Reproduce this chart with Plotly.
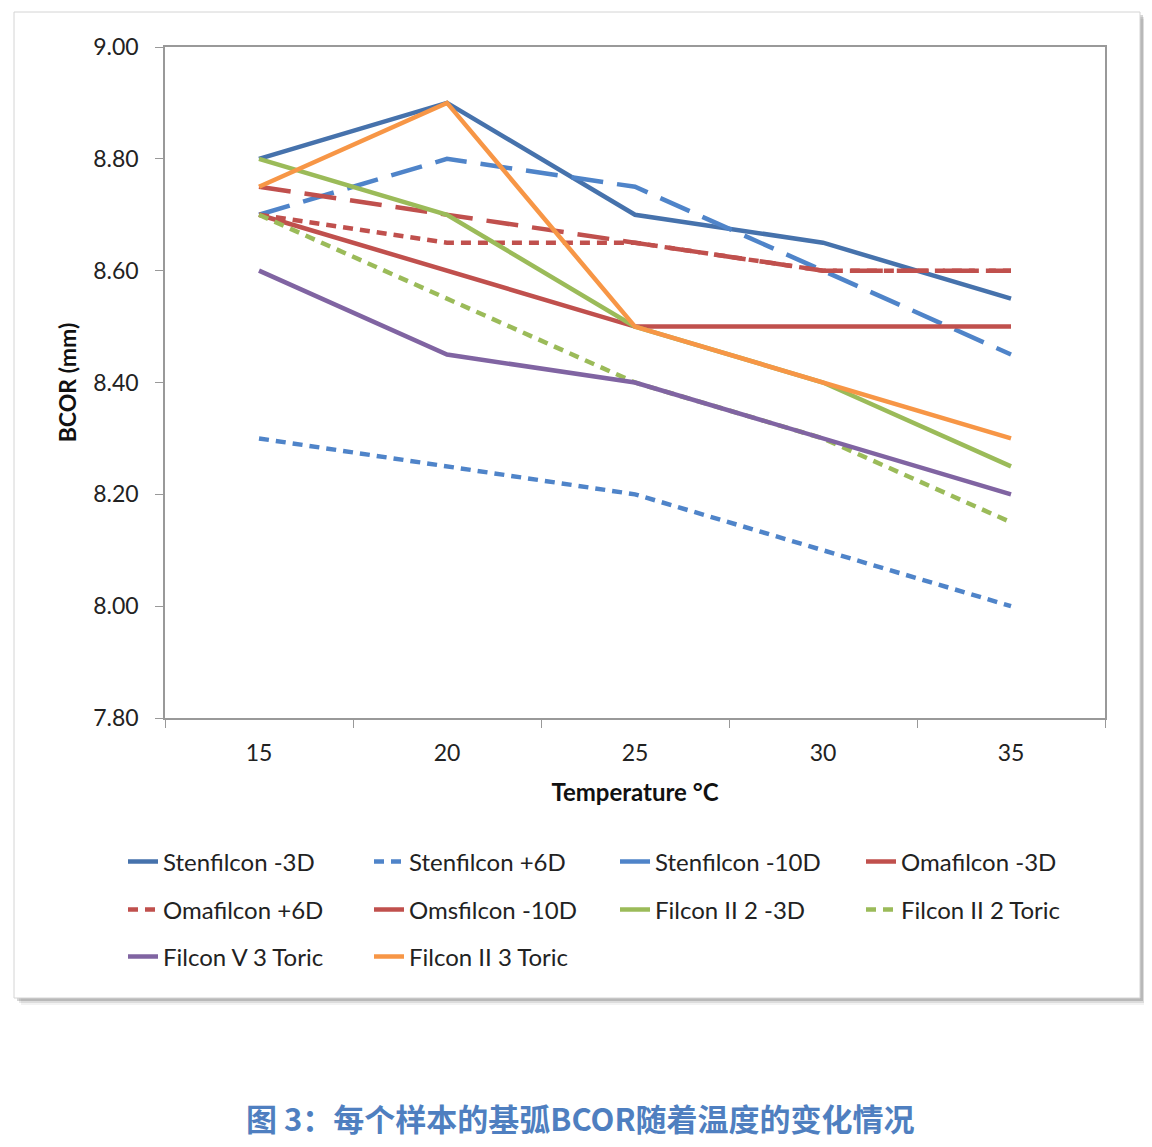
import plotly.graph_objects as go

temps = ["15", "20", "25", "30", "35"]

stenfilcon_m3 = [8.80, 8.90, 8.70, 8.65, 8.55]
stenfilcon_p6 = [8.30, 8.25, 8.20, 8.10, 8.00]
stenfilcon_m10 = [8.70, 8.80, 8.75, 8.60, 8.45]
omafilcon_m3 = [8.70, 8.60, 8.50, 8.50, 8.50]
omafilcon_p6 = [8.70, 8.65, 8.65, 8.60, 8.60]
omsfilcon_m10 = [8.75, 8.70, 8.65, 8.60, 8.60]
filcon2_2_m3 = [8.80, 8.70, 8.50, 8.40, 8.25]
filcon2_2_toric = [8.70, 8.55, 8.40, 8.30, 8.15]
filcon5_3_toric = [8.60, 8.45, 8.40, 8.30, 8.20]
filcon2_3_toric = [8.75, 8.90, 8.50, 8.40, 8.30]

series_names = ["Stenfilcon -3D", "Stenfilcon +6D", "Stenfilcon -10D", "Omafilcon -3D",
                "Omafilcon +6D", "Omsfilcon -10D", "Filcon II 2 -3D", "Filcon II 2 Toric",
                "Filcon V 3 Toric", "Filcon II 3 Toric"]
series_values = [stenfilcon_m3, stenfilcon_p6, stenfilcon_m10, omafilcon_m3,
                 omafilcon_p6, omsfilcon_m10, filcon2_2_m3, filcon2_2_toric,
                 filcon5_3_toric, filcon2_3_toric]

SHORT = "10px,7px"
LONG = "32px,14px"
styles = [
    ("#4672AC", "solid"), ("#4F84C9", SHORT), ("#4F84C9", LONG), ("#C0504D", "solid"),
    ("#C0504D", SHORT), ("#C0504D", LONG), ("#9BBB59", "solid"), ("#9BBB59", SHORT),
    ("#8064A2", "solid"), ("#F79646", "solid"),
]
legend_ids = ["legend"] * 4 + ["legend2"] * 4 + ["legend3"] * 2

FONT = "Lato, Open Sans, sans-serif"

fig = go.Figure()
for name, vals, (col, dash), lg in zip(series_names, series_values, styles, legend_ids):
    fig.add_trace(go.Scatter(x=temps, y=vals, name=name, mode="lines",
                             line=dict(color=col, width=4.5, dash=dash), legend=lg))

# page has an 8px body margin; work in page pixel coords and convert
OFF = 8
W, H = 1152 - 2 * OFF, 1147 - 2 * OFF
PL, PR, PT, PB = 165, 1105, 47, 718  # plot area in page coords
L = PL - OFF
T = PT - OFF
R = W - (PR - OFF)
B = H - (PB - OFF)
pw, ph = PR - PL, PB - PT


def px(x):
    return (x - PL) / pw


def py(y):
    return (PB - y) / ph


shapes = []
for off, c in [(7, "rgba(0,0,0,0.05)"), (5, "rgba(0,0,0,0.09)"), (3, "rgba(0,0,0,0.16)")]:
    shapes.append(dict(type="rect", xref="paper", yref="paper", layer="below",
                       x0=px(14 + off), x1=px(1140 + off), y0=py(998 + off), y1=py(12 + off),
                       line=dict(width=0), fillcolor=c))
shapes.append(dict(type="rect", xref="paper", yref="paper", layer="below",
                   x0=px(14), x1=px(1140), y0=py(998), y1=py(12),
                   line=dict(color="#D4D4D4", width=1), fillcolor="white"))

leg_common = dict(orientation="h", xanchor="left", yanchor="middle",
                  font=dict(family=FONT, size=24, color="#222222"),
                  bgcolor="rgba(0,0,0,0)", entrywidth=201, entrywidthmode="pixels",
                  itemwidth=30)

fig.update_layout(
    width=W, height=H,
    margin=dict(l=L, r=R, t=T, b=B, pad=0),
    paper_bgcolor="white", plot_bgcolor="white",
    font=dict(family=FONT, size=20, color="#222222"),
    showlegend=True,
    shapes=shapes,
    xaxis=dict(type="category", categoryorder="array", categoryarray=temps,
               range=[-0.5, 4.5],
               tickson="boundaries", ticks="outside", ticklen=8, tickcolor="#999999",
               showline=True, linecolor="#999999", linewidth=1.5, mirror=True,
               showgrid=False, zeroline=False, ticklabelstandoff=14,
               tickfont=dict(family=FONT, size=23, color="#222222"),
               title=dict(text="<b>Temperature °C</b>", standoff=19,
                          font=dict(family=FONT, size=24, color="#111111"))),
    yaxis=dict(range=[7.8, 9.0], dtick=0.2, tickformat=".2f",
               ticks="outside", ticklen=8, tickcolor="#999999",
               showline=True, linecolor="#999999", linewidth=1.5, mirror=True,
               showgrid=False, zeroline=False, ticklabelstandoff=12,
               tickfont=dict(family=FONT, size=23, color="#222222"),
               title=dict(text="<b>BCOR (mm)</b>", standoff=10,
                          font=dict(family=FONT, size=23, color="#111111"))),
    legend=dict(x=px(123), y=py(862), **leg_common),
    legend2=dict(x=px(123), y=py(910), **leg_common),
    legend3=dict(x=px(123), y=py(957), **leg_common),
    annotations=[dict(text="<b>图 3：每个样本的基弧BCOR随着温度的变化情况</b>",
                      xref="paper", yref="paper", x=px(580), y=py(1117),
                      xanchor="center", yanchor="middle", showarrow=False,
                      font=dict(family="Noto Sans CJK SC", size=31, color="#4F7FC0"))],
)

fig.write_html("out.html")
